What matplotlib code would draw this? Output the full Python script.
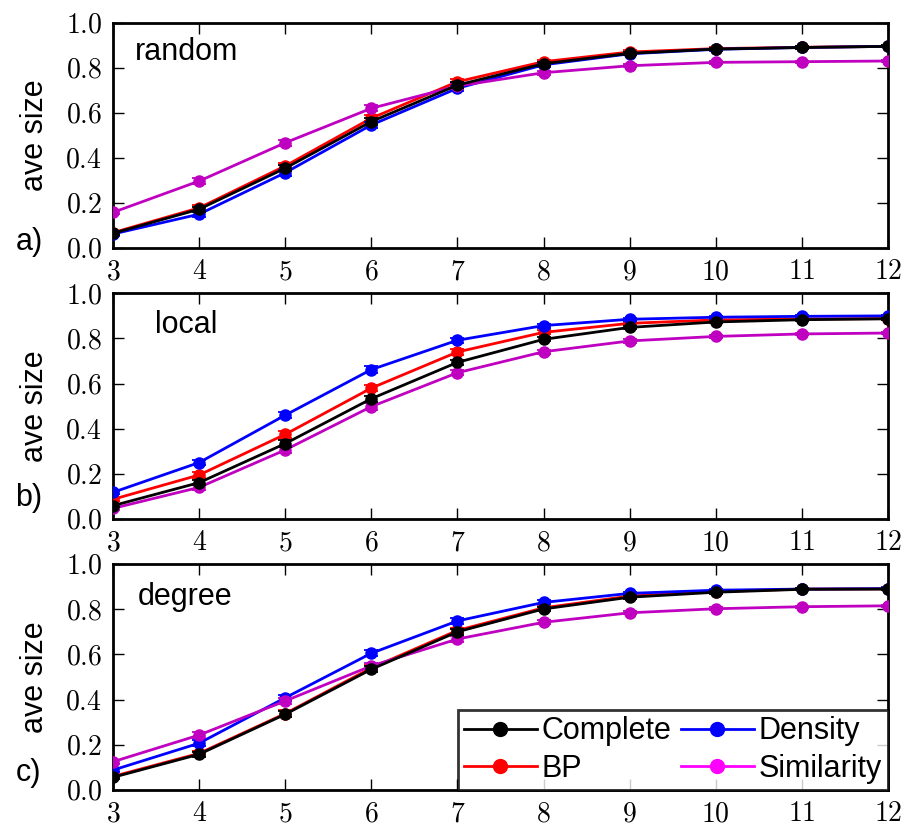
import numpy as np
import matplotlib
matplotlib.use('Agg')
import matplotlib.pyplot as plt
from matplotlib.lines import Line2D
from matplotlib.ticker import FuncFormatter

plt.rcParams['font.family'] = ['Liberation Sans', 'DejaVu Sans']
plt.rcParams['mathtext.fontset'] = 'cm'

# -------------------------------------------------------
# Данные
# -------------------------------------------------------
x = [3, 4, 5, 6, 7, 8, 9, 10, 11, 12]

# random
rnd_complete = [0.065, 0.172, 0.354, 0.561, 0.723, 0.818, 0.864, 0.883, 0.890, 0.895]
rnd_bp = [0.068, 0.178, 0.364, 0.576, 0.738, 0.827, 0.870, 0.885, 0.891, 0.895]
rnd_density = [0.062, 0.150, 0.334, 0.546, 0.709, 0.813, 0.862, 0.882, 0.890, 0.895]
rnd_similarity = [0.158, 0.297, 0.467, 0.620, 0.719, 0.778, 0.809, 0.824, 0.827, 0.830]

# local
loc_complete = [0.059, 0.161, 0.334, 0.533, 0.694, 0.796, 0.849, 0.873, 0.883, 0.887]
loc_bp = [0.087, 0.195, 0.375, 0.580, 0.740, 0.827, 0.867, 0.882, 0.886, 0.888]
loc_density = [0.118, 0.250, 0.460, 0.662, 0.792, 0.857, 0.885, 0.894, 0.898, 0.900]
loc_similarity = [0.047, 0.140, 0.306, 0.498, 0.648, 0.741, 0.789, 0.809, 0.820, 0.824]

# degree
deg_complete = [0.056, 0.158, 0.335, 0.534, 0.700, 0.801, 0.853, 0.875, 0.888, 0.889]
deg_bp = [0.060, 0.162, 0.338, 0.540, 0.706, 0.806, 0.858, 0.878, 0.889, 0.890]
deg_density = [0.088, 0.207, 0.408, 0.605, 0.748, 0.830, 0.870, 0.884, 0.889, 0.891]
deg_similarity = [0.125, 0.243, 0.394, 0.549, 0.668, 0.742, 0.784, 0.802, 0.811, 0.815]

# погрешности
err = [0.008, 0.012, 0.014, 0.014, 0.012, 0.009, 0.007, 0.006, 0.005, 0.005]

panels = [
    ('random', 'a)', rnd_complete, rnd_bp, rnd_density, rnd_similarity),
    ('local', 'b)', loc_complete, loc_bp, loc_density, loc_similarity),
    ('degree', 'c)', deg_complete, deg_bp, deg_density, deg_similarity),
]

names = ['Complete', 'BP', 'Density', 'Similarity']
colors = ['black', 'red', 'blue', '#c000c0']
legend_colors = ['black', 'red', 'blue', '#ff00ff']
zorders = [6, 3, 4, 5]

# -------------------------------------------------------
# Построение
# -------------------------------------------------------
fig = plt.figure(figsize=(9.09, 8.26), dpi=100)

boxes = [
    [0.1243, 0.6998, 0.8526, 0.2727],
    [0.1243, 0.3717, 0.8526, 0.2732],
    [0.1243, 0.0436, 0.8526, 0.2736],
]
name_pos = [(0.028, 0.834), (0.054, 0.823), (0.032, 0.819)]
letter_y = [0.697, 0.388, 0.055]

for i, (title, letter, *series) in enumerate(panels):
    ax = fig.add_axes(boxes[i])
    for ys, c, z in zip(series, colors, zorders):
        ax.errorbar(x, ys, yerr=err, color=c, marker='o', markersize=8,
                    lw=2.0, capsize=5, capthick=1.3, elinewidth=1.3,
                    markeredgecolor=c, zorder=z)
    ax.set_xlim(3, 12)
    ax.set_ylim(0, 1)
    ax.set_xticks(x)
    ax.set_yticks([0, 0.2, 0.4, 0.6, 0.8, 1.0])
    ax.xaxis.set_major_formatter(FuncFormatter(lambda v, p: r'$%d$' % v))
    ax.yaxis.set_major_formatter(FuncFormatter(lambda v, p: r'$%.1f$' % v))
    ax.tick_params(direction='in', length=8, width=1, top=True, right=True,
                   labelsize=20, pad=8)
    for sp in ax.spines.values():
        sp.set_linewidth(2)
    ax.set_ylabel('ave size', fontsize=22, labelpad=11)
    ax.text(name_pos[i][0], name_pos[i][1], title, transform=ax.transAxes,
            fontsize=22, va='baseline')
    fig.text(0.017, letter_y[i], letter, fontsize=22, va='baseline')

    if i == 2:
        handles = [Line2D([], [], color=c, marker='o', markersize=10, lw=2.0)
                   for c in legend_colors]
        leg = ax.legend(handles, names, loc='lower right', ncol=2,
                        fontsize=22, frameon=True, fancybox=False,
                        borderaxespad=0, handlelength=2.4, handletextpad=0.15,
                        columnspacing=0.3, labelspacing=0.25, borderpad=0.2)
        leg.get_frame().set_edgecolor('black')
        leg.get_frame().set_linewidth(2)
        leg.set_zorder(10)

fig.savefig('out.png', dpi=100)
